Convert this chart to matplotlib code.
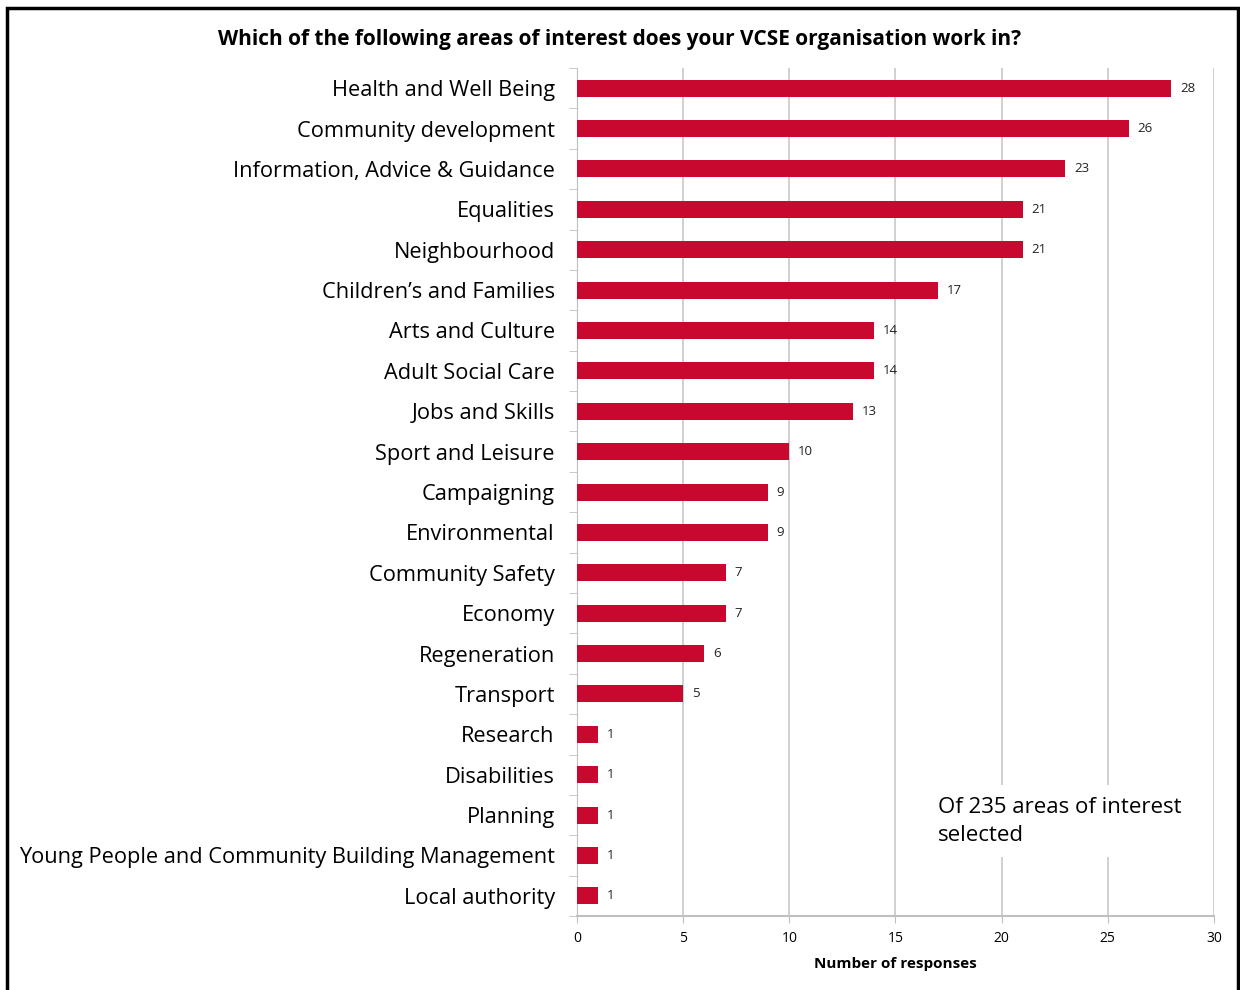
import matplotlib.pyplot as plt
from matplotlib.patches import Rectangle

categorias = [
    "Health and Well Being", "Community development",
    "Information, Advice & Guidance", "Equalities", "Neighbourhood",
    "Children’s and Families", "Arts and Culture", "Adult Social Care",
    "Jobs and Skills", "Sport and Leisure", "Campaigning", "Environmental",
    "Community Safety", "Economy", "Regeneration", "Transport", "Research",
    "Disabilities", "Planning", "Young People and Community Building Management",
    "Local authority",
]
respuestas = [28, 26, 23, 21, 21, 17, 14, 14, 13, 10, 9, 9, 7, 7, 6, 5, 1, 1, 1, 1, 1]
ticks_x = [0, 5, 10, 15, 20, 25, 30]

plt.rcParams['font.family'] = ['Open Sans', 'DejaVu Sans']

fig = plt.figure(figsize=(12.4, 9.9), dpi=100)
ax = fig.add_axes([0.4653, 0.0747, 0.5137, 0.8566])

pos = list(range(len(categorias)))[::-1]
ax.barh(pos, respuestas, height=0.42, color='#C9082F', zorder=3)
for p, v in zip(pos, respuestas):
    ax.text(v + 0.4, p, str(v), va='center', ha='left', fontsize=9.5, color='#222222')

ax.set_xlim(0, 30)
ax.set_ylim(-0.5, len(categorias) - 0.5)
ax.set_xticks(ticks_x)
ax.set_xticklabels([str(t) for t in ticks_x], fontsize=10)
ax.set_yticks(pos)
ax.set_yticklabels(categorias, fontsize=15.7)
ax.tick_params(axis='y', length=0, pad=16)
ax.tick_params(axis='x', length=5, color='#BFBFBF', pad=6)
ax.set_yticks([p + 0.5 for p in pos] + [-0.5], minor=True)
ax.tick_params(axis='y', which='minor', length=6, color='#BFBFBF')

ax.grid(axis='x', color='#C8C8C8', linewidth=1.2, zorder=0)
for lado in ['top', 'right']:
    ax.spines[lado].set_visible(False)
ax.spines['left'].set_color('#BFBFBF')
ax.spines['bottom'].set_color('#BFBFBF')
ax.spines['bottom'].set_linewidth(1.5)

ax.set_xlabel("Number of responses", fontsize=11, fontweight='bold', labelpad=8)
fig.suptitle("Which of the following areas of interest does your VCSE organisation work in?",
             fontsize=15, fontweight='bold', x=0.5, y=0.960, va='center')

ax.text(17.0, 1.85, "Of 235 areas of interest\nselected", fontsize=16, va='center', ha='left',
        linespacing=1.45, zorder=4,
        bbox=dict(facecolor='white', edgecolor='none', pad=8))

fig.patches.append(Rectangle((7 / 1240, -0.05), 1231 / 1240, 1.05 - 8 / 990,
                             transform=fig.transFigure, fill=False,
                             edgecolor='black', linewidth=2.5))

plt.savefig("out.png", dpi=100)
